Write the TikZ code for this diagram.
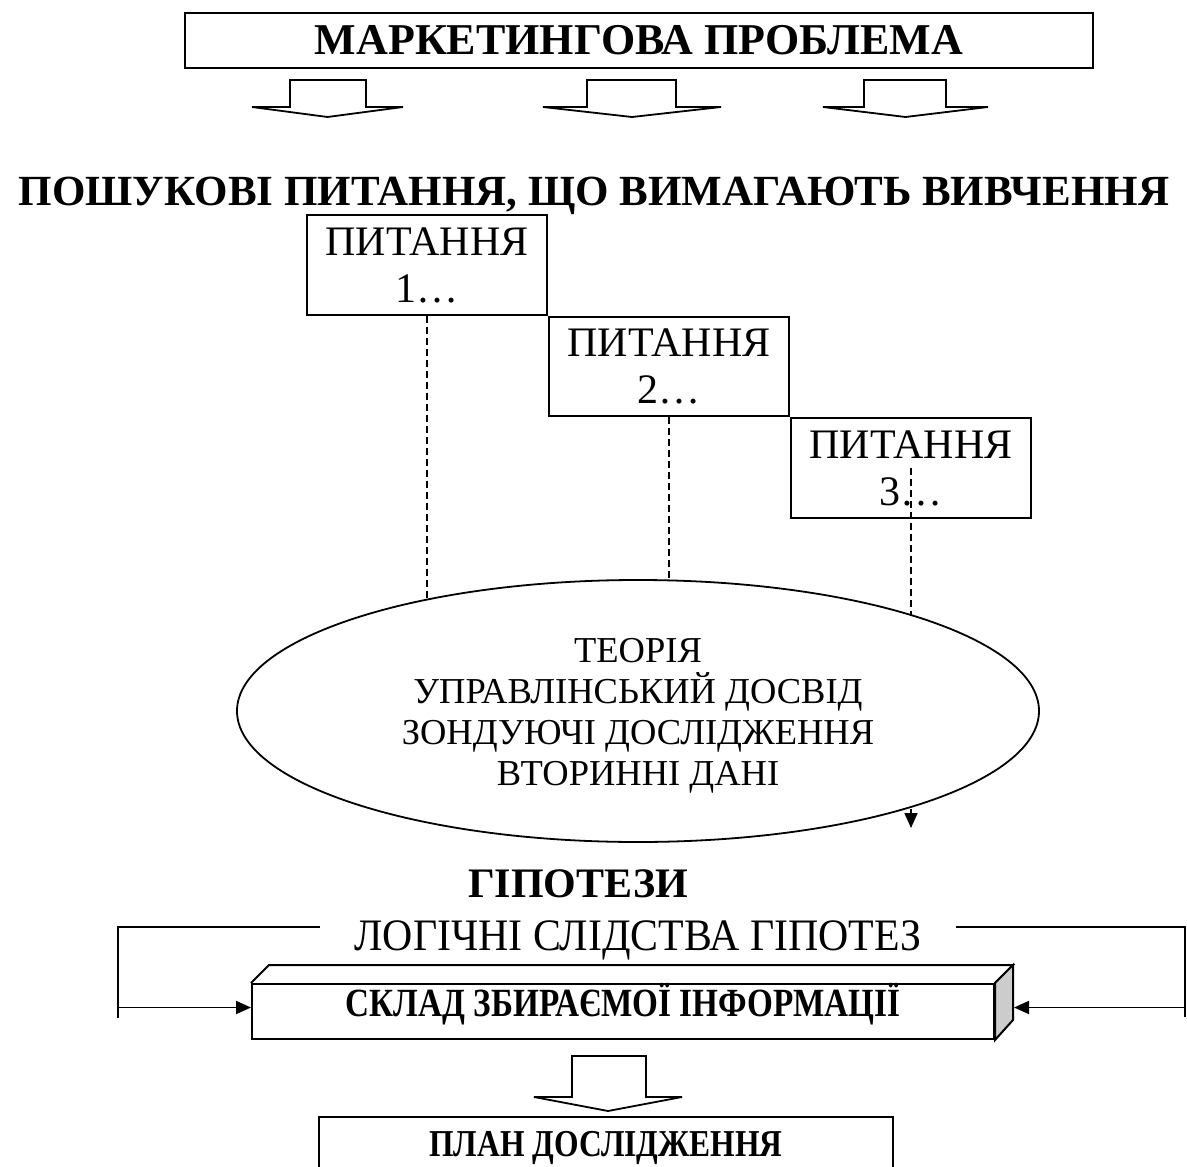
\documentclass[tikz,border=0pt]{standalone}
\usepackage{fontspec}
\setmainfont{Liberation Serif}
\newfontfamily\narrowserif[FakeStretch=0.93]{Liberation Serif}
\newfontfamily\condserif[FakeStretch=0.83]{Liberation Serif}
\usetikzlibrary{arrows.meta}
\usetikzlibrary{shapes.geometric,backgrounds,positioning}
\tikzset{plainbox/.style={draw, line width=2pt, inner sep=0pt}}

\begin{document}
\begin{tikzpicture}[x=1pt, y=-1pt, line width=1.8pt,
      qbox/.style={plainbox, minimum width=240pt, minimum height=99.5pt,
        align=center, font=\fontsize{42}{47}\selectfont},
      blockarrow/.style={draw, line width=1.8pt, line join=miter},
      dashline/.style={line width=1.8pt, dash pattern=on 7pt off 4pt},
      headarrow/.style={-{Triangle[length=15pt,width=13pt]}}]
      \path[use as bounding box, clip] (0,0) rectangle (1187,1167);

      \node[plainbox, minimum width=908pt, minimum height=55pt,
        font=\bfseries\fontsize{44}{48}\selectfont]
        (problem) at (639,40.5) {МАРКЕТИНГОВА ПРОБЛЕМА};
      \foreach \bl/\sl/\sr/\br in {252/290/366/403, 543/587/676/721, 823/864/946/988}
        \draw[blockarrow] (\sl,80) -- (\sr,80) -- (\sr,107) -- (\br,107)
          -- ({(\bl+\br)/2},117) -- (\bl,107) -- (\sl,107) -- cycle;

      \node[anchor=base, font=\bfseries\fontsize{43}{48}\selectfont]
        (search) at (594,205) {ПОШУКОВІ ПИТАННЯ, ЩО ВИМАГАЮТЬ ВИВЧЕННЯ};

      \node[qbox] (q1) at (427,265) {ПИТАННЯ\\1…};
      \node[qbox, anchor=north west] (q2) at (q1.south east) {ПИТАННЯ\\2…};
      \node[qbox, anchor=north west] (q3) at (q2.south east) {ПИТАННЯ\\3…};

      \node[ellipse, draw, fill=white, line width=1.8pt, inner sep=0pt,
        minimum width=802pt, minimum height=262pt] (sources) at (638,711) {};
      \node[align=center, font=\fontsize{36.5}{41}\selectfont]
        (sourcestext) at ([yshift=-5pt]sources.center)
        {ТЕОРІЯ\\УПРАВЛІНСЬКИЙ ДОСВІД\\ЗОНДУЮЧІ ДОСЛІДЖЕННЯ\\ВТОРИННІ ДАНІ};
      \coordinate (sourcesout) at (905,828);

      \begin{scope}[on background layer]
        \draw[dashline] (q1.south) -- (q1.south |- sources.center);
        \draw[dashline] (q2.south) -- (q2.south |- sources.center);
        \draw[dashline, headarrow] (q3.center) -- (q3.center |- sourcesout);
      \end{scope}

      \node[anchor=base, font=\bfseries\fontsize{42}{48}\selectfont]
        (hyp) at (578,897) {ГІПОТЕЗИ};
      \node[anchor=base, inner xsep=34pt, font=\narrowserif\fontsize{45}{50}\selectfont]
        (cons) at (638,950) {ЛОГІЧНІ СЛІДСТВА ГІПОТЕЗ};

      % box with depth
      \node[plainbox, anchor=north, minimum width=742pt, text height=32pt,
        text depth=23pt, font=\condserif\bfseries\fontsize{40}{46}\selectfont]
        (info) at (623,983) {СКЛАД ЗБИРАЄМОЇ ІНФОРМАЦІЇ};
      \draw[line width=2pt, line join=miter] (info.north west) -- ++(18,-18)
        -- ([shift={(18,-18)}]info.north east) -- (info.north east);
      \filldraw[fill=black!20, line width=2pt, line join=miter] (info.north east)
        -- ++(18,-18) -- ++(0,55) -- (info.south east) -- cycle;

      \coordinate (lt) at (118,927);
      \coordinate (lv) at (118,1018);
      \coordinate (rt) at (1185,927);
      \coordinate (rv) at (1185,1017);
      \coordinate (la) at ([yshift=4pt]info.west);
      \coordinate (ra) at ([xshift=19pt,yshift=4pt]info.east);
      \draw (cons.west |- lt) -- (lt) -- (lv);
      \draw (cons.east |- rt) -- (rt) -- (rv);
      \draw[headarrow] (lv |- la) -- (la);
      \draw[headarrow] (rv |- ra) -- (ra);

      \draw[blockarrow] (572,1056) -- (646,1056) -- (646,1097) -- (682,1097)
        -- (608,1111) -- (534,1097) -- (572,1097) -- cycle;
      \node[plainbox, anchor=north, minimum width=574pt, inner ysep=10pt,
        text height=29pt, text depth=30pt,
        font=\condserif\bfseries\fontsize{38}{44}\selectfont]
        (plan) at (606,1116) {ПЛАН ДОСЛІДЖЕННЯ};
\end{tikzpicture}
\end{document}
